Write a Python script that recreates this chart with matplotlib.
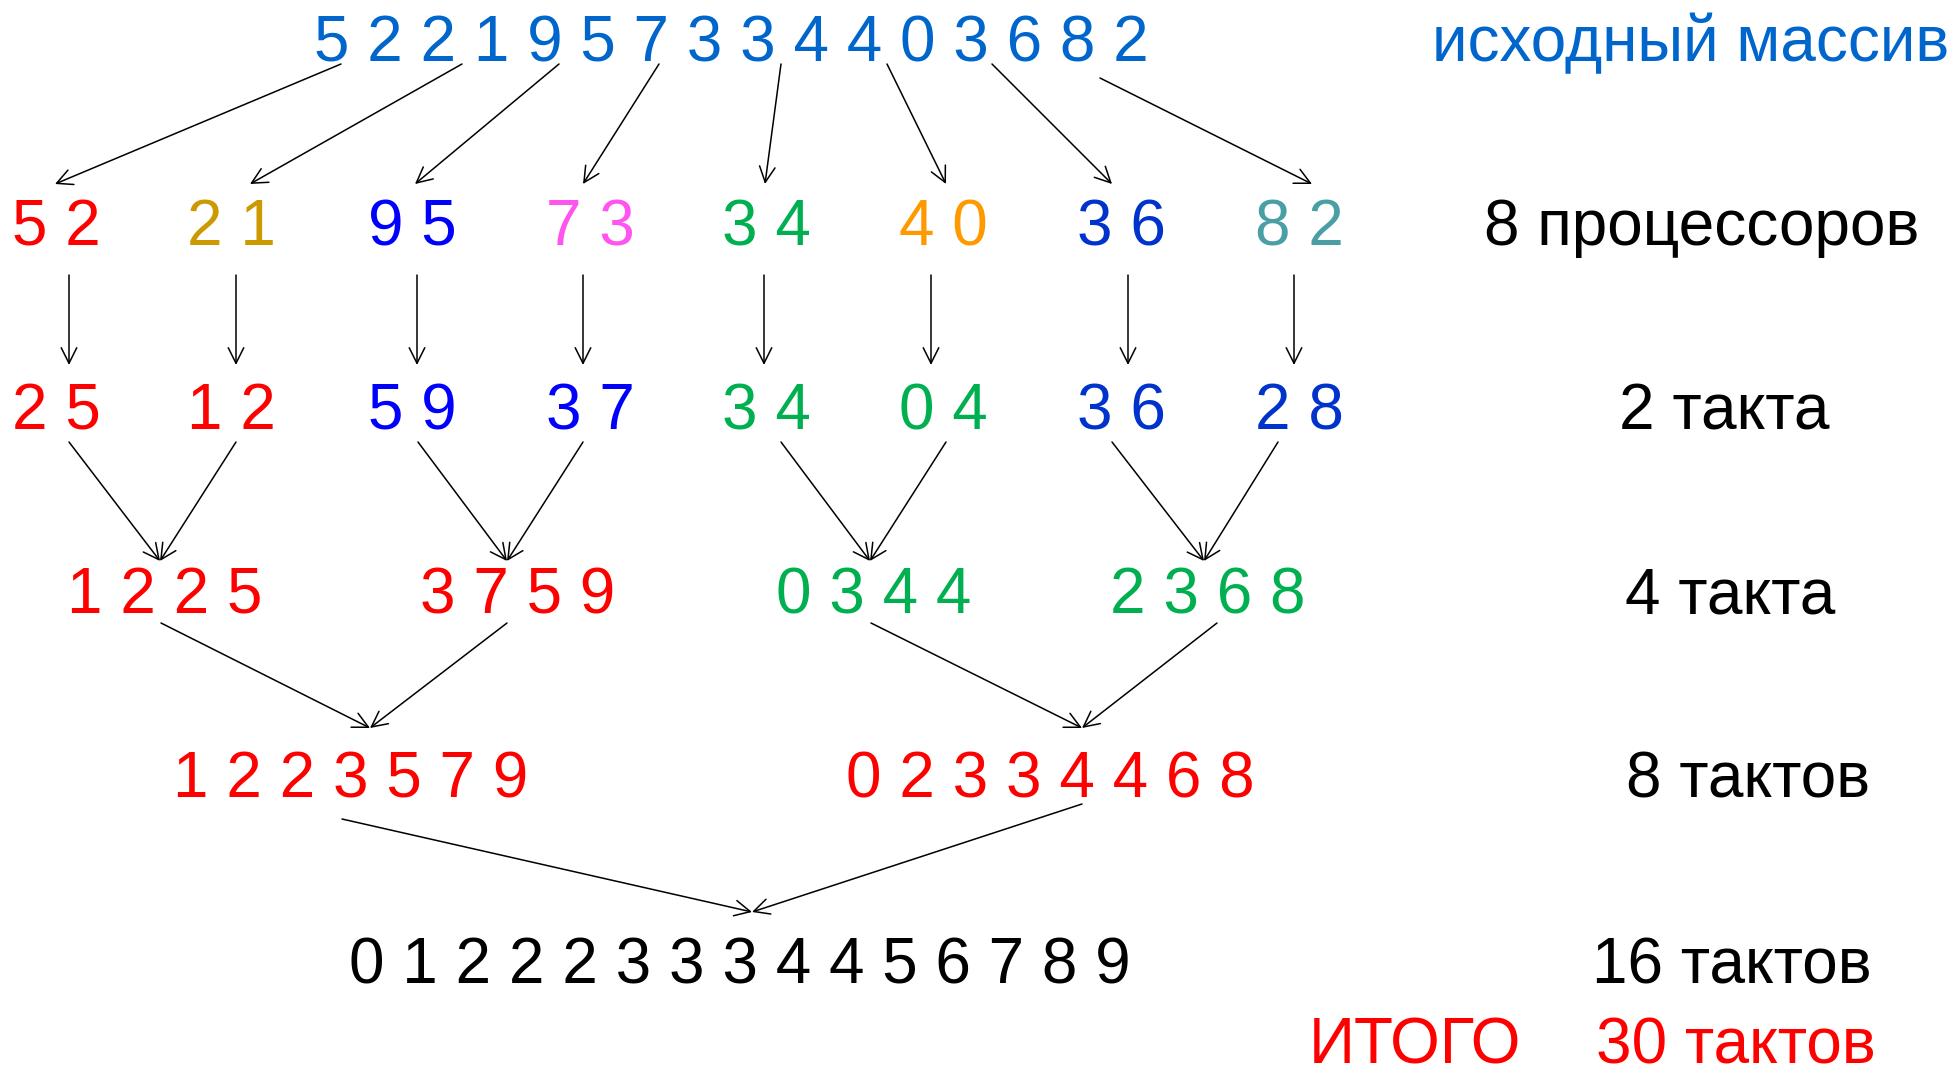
import matplotlib
matplotlib.use('Agg')
import matplotlib.pyplot as plt

plt.rcParams['font.family'] = ['Liberation Sans', 'DejaVu Sans']

# data: each level of the merge sort, groups of digits and their colours
source = [5, 2, 2, 1, 9, 5, 7, 3, 3, 4, 4, 0, 3, 6, 8, 2]
level_pairs = [[5, 2], [2, 1], [9, 5], [7, 3], [3, 4], [4, 0], [3, 6], [8, 2]]
pair_colors = ['#FF0000', '#CC9900', '#0000FF', '#FF55EE',
               '#00B050', '#FF9900', '#0033CC', '#4A9FA5']
level_sorted2 = [[2, 5], [1, 2], [5, 9], [3, 7], [3, 4], [0, 4], [3, 6], [2, 8]]
sorted2_colors = ['#FF0000', '#FF0000', '#0000FF', '#0000FF',
                  '#00B050', '#00B050', '#0033CC', '#0033CC']
level_sorted4 = [[1, 2, 2, 5], [3, 7, 5, 9], [0, 3, 4, 4], [2, 3, 6, 8]]
sorted4_colors = ['#FF0000', '#FF0000', '#00B050', '#00B050']
level_sorted8 = [[1, 2, 2, 3, 5, 7, 9], [0, 2, 3, 3, 4, 4, 6, 8]]
sorted8_colors = ['#FF0000', '#FF0000']
result = [0, 1, 2, 2, 2, 3, 3, 3, 4, 4, 5, 6, 7, 8, 9]

labels = ['исходный массив', '8 процессоров', '2 такта', '4 такта',
          '8 тактов', '16 тактов']
label_colors = ['#0066CC', 'black', 'black', 'black', 'black', 'black']
total_word = 'ИТОГО'
total_label = '30 тактов'

# layout (pixels of the 1957x1078 canvas)
W, H = 1957, 1078
baselines = [61, 245, 429, 614, 798, 983]
x_pairs = [56, 231, 412, 590, 766, 943, 1121, 1299]
x_fours = [165, 518, 874, 1208]
x_eights = [351, 1050]
x_result = 740
x_source = 731
label_x = [1949, 1702, 1724, 1730, 1748, 1732]
FS = 46


def seq(d):
    return ' '.join(str(v) for v in d)


fig = plt.figure(figsize=(W / 100, H / 100), dpi=100)
ax = fig.add_axes([0, 0, 1, 1])
ax.set_xlim(0, W)
ax.set_ylim(H, 0)
ax.axis('off')


def put(x, y, s, color, ha='center'):
    ax.text(x, y, s, fontsize=FS, color=color, ha=ha, va='baseline')


put(x_source, baselines[0], seq(source), '#0066CC')
for x, d, c in zip(x_pairs, level_pairs, pair_colors):
    put(x, baselines[1], seq(d), c)
for x, d, c in zip(x_pairs, level_sorted2, sorted2_colors):
    put(x, baselines[2], seq(d), c)
for x, d, c in zip(x_fours, level_sorted4, sorted4_colors):
    put(x, baselines[3], seq(d), c)
for x, d, c in zip(x_eights, level_sorted8, sorted8_colors):
    put(x, baselines[4], seq(d), c)
put(x_result, baselines[5], seq(result), 'black')

for i, (lab, c) in enumerate(zip(labels, label_colors)):
    if i == 0:
        put(label_x[i], baselines[i], lab, c, ha='right')
    else:
        put(label_x[i], baselines[i], lab, c)
put(1415, 1064, total_word, '#FF0000')
put(1736, 1064, total_label, '#FF0000')


def arrow(x0, y0, x1, y1):
    ax.annotate('', xy=(x1, y1), xytext=(x0, y0),
                arrowprops=dict(arrowstyle='->', color='black', lw=1.1,
                                shrinkA=0, shrinkB=0, mutation_scale=28))


# source -> processors
starts = [(341, 64), (462, 64), (559, 64), (659, 64),
          (781, 64), (887, 64), (992, 64), (1100, 78)]
ends = [(55, 184), (250, 184), (415, 184), (583, 184),
        (765, 184), (946, 184), (1112, 184), (1312, 184)]
for (a, b), (c, d) in zip(starts, ends):
    arrow(a, b, c, d)

# processors -> 2 takta
for x in [69, 236, 417, 583, 764, 931, 1128, 1294]:
    arrow(x, 275, x, 365)

# 2 -> 4
merge_ends = [160, 507, 870, 1204]
left = [69, 418, 781, 1112]
right = [236, 583, 946, 1278]
for l, r, e in zip(left, right, merge_ends):
    arrow(l, 442, e, 561)
    arrow(r, 442, e, 561)

# 4 -> 8
for l, r, e in zip([161, 871], [507, 1217], [370, 1082]):
    arrow(l, 623, e, 728)
    arrow(r, 623, e, 728)

# 8 -> 16
arrow(342, 819, 752, 912)
arrow(1082, 804, 752, 912)

fig.savefig('out.png', dpi=100, facecolor='white')
